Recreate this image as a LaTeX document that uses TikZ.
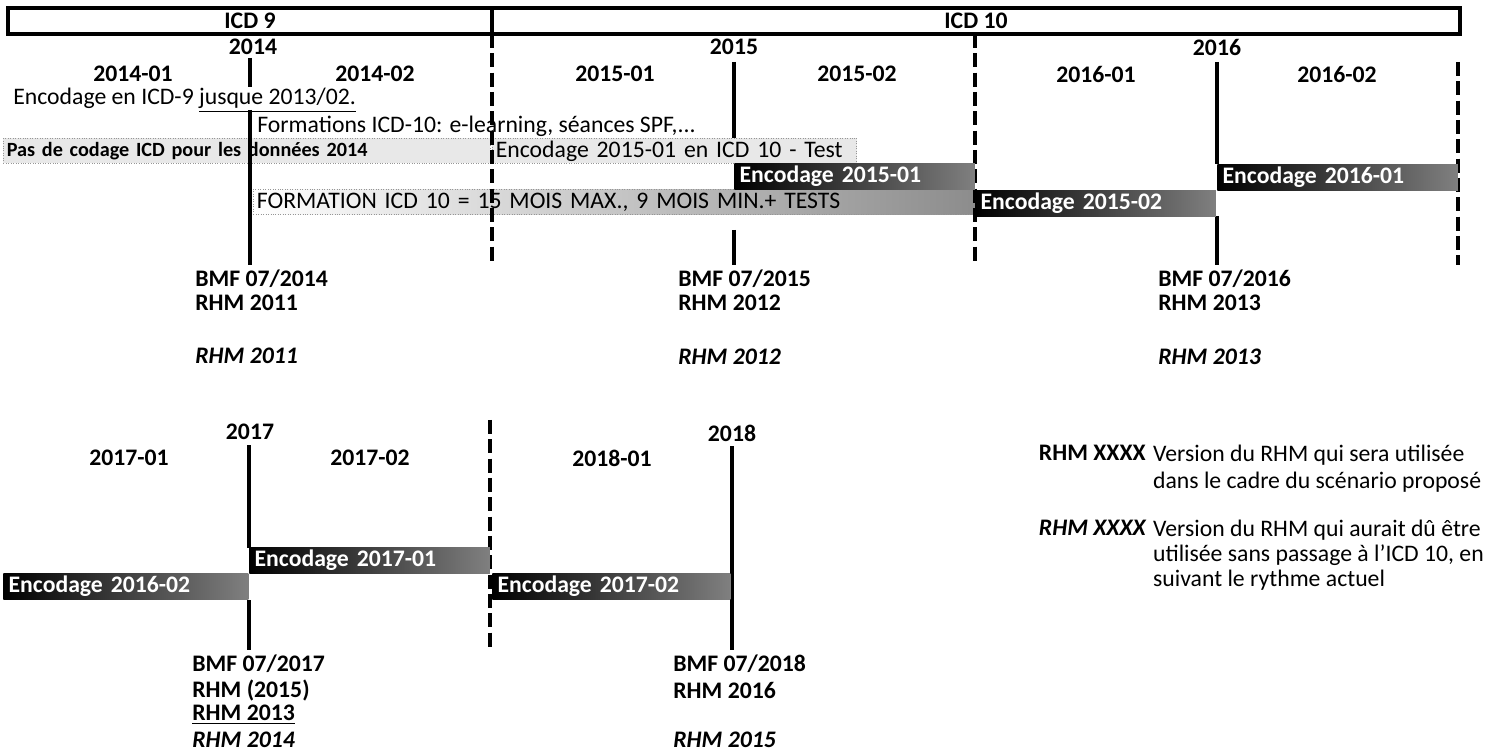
\documentclass[tikz,border=0pt]{standalone}
\usepackage{fontspec}
\setmainfont{Carlito}
\usepackage{tikz}
\usetikzlibrary{positioning}
\definecolor{notegray}{RGB}{232,232,232}
\definecolor{dotgray}{RGB}{150,150,150}
\newcommand{\txtsize}{\fontsize{13.5}{15.5}\selectfont}

\begin{document}
\begin{tikzpicture}[x=0.02cm, y=-0.02cm, every node/.style={font=\txtsize},
  hdr/.style={draw, line width=1.9pt, minimum height=0.52cm, inner sep=0pt,
              font=\bfseries\txtsize},
  yearlbl/.style={font=\bfseries\txtsize, inner sep=0pt},
  lbl/.style={anchor=west, inner sep=0pt, font=\bfseries\txtsize},
  oldlbl/.style={anchor=west, inner sep=0pt, font=\bfseries\itshape\txtsize},
  yrline/.style={line width=2.8pt},
  halfline/.style={line width=2.8pt, dash pattern=on 8pt off 3pt},
  note/.style={anchor=west, inner sep=0pt},
  greybox/.style={anchor=north west, fill=notegray, draw=dotgray, densely dotted,
                  minimum height=0.5cm, inner xsep=2pt, inner ysep=0pt, align=left},
  enc/.style={anchor=north west, left color=black, middle color=black!85,
              right color=black!50, text=white, font=\bfseries\txtsize,
              inner xsep=3pt, inner ysep=0pt, minimum height=0.52cm,
              text width=#1, align=left},
  enc/.default=4.6cm]
  \useasboundingbox (0,0) rectangle (1509,753);

  % ICD header
  \node[hdr, minimum width=9.68cm] (icd9) at (250,21) {ICD 9};
  \node[hdr, minimum width=19.36cm] (icd10) at (976,21) {ICD 10};

  % Years and semesters, row 1
  \node[yearlbl] (y14) at (253,47) {2014};
  \node[yearlbl] (y15) at (734,47) {2015};
  \node[yearlbl] (y16) at (1217,47) {2016};
  \node[yearlbl] (s141) at (133,74) {2014-01};
  \node[yearlbl] (s142) at (375,74) {2014-02};
  \node[yearlbl] (s151) at (615,74) {2015-01};
  \node[yearlbl] (s152) at (857,74) {2015-02};
  \node[yearlbl] (s161) at (1096,74) {2016-01};
  \node[yearlbl] (s162) at (1337,74) {2016-02};

  % Notes, row 1
  \node[note] (icd9enc) at (13,100) {Encodage en ICD-9 \underline{jusque 2013/02.}};
  \node[note] (form) at (257,126) {Formations ICD-10: e-learning, s\'eances SPF,...};
  \node[greybox, text width=9.6cm, font=\bfseries\fontsize{11.5}{13}\selectfont]
    (nocode) at (3,138) {Pas de codage ICD pour les donn\'ees 2014};
  \node[greybox, text width=7.15cm] (test) at (492,138) {Encodage 2015-01 en ICD 10 - Test};
  \node[anchor=north west, left color=white, right color=black!45, draw=dotgray,
        densely dotted, minimum height=0.5cm, inner xsep=2pt, inner ysep=0pt,
        text width=14.3cm, align=left] (formmax) at (253,189)
    {FORMATION ICD 10 = 15 MOIS MAX., 9 MOIS MIN.+ TESTS};

  % Year lines, row 1
  \draw[yrline] (250,58) -- (250,87);
  \draw[yrline] (250,110) -- (250,265);
  \draw[yrline] (734,62) -- (734,138);
  \draw[yrline] (734,230) -- (734,265);
  \draw[yrline] (1217,62) -- (1217,164);
  \draw[yrline] (1217,216) -- (1217,265);
  \draw[halfline] (492,34) -- (492,265);
  \draw[halfline] (975,34) -- (975,265);
  \draw[halfline] (1458,62) -- (1458,265);

  % Encoding bars, row 1
  \node[enc] (e1501) at (734,163) {Encodage 2015-01};
  \node[enc] (e1502) at (975,190) {Encodage 2015-02};
  \node[enc] (e1601) at (1217,164) {Encodage 2016-01};

  % Versions, row 1
  \node[lbl] (bmf14) at (195,279) {BMF 07/2014};
  \node[lbl] (rhm14) at (195,303) {RHM 2011};
  \node[oldlbl] (old14) at (195,356) {RHM 2011};
  \node[lbl] (bmf15) at (678,279) {BMF 07/2015};
  \node[lbl] (rhm15) at (678,303) {RHM 2012};
  \node[oldlbl] (old15) at (678,357) {RHM 2012};
  \node[lbl] (bmf16) at (1158,279) {BMF 07/2016};
  \node[lbl] (rhm16) at (1158,303) {RHM 2013};
  \node[oldlbl] (old16) at (1158,357) {RHM 2013};

  % Years and semesters, row 2
  \node[yearlbl] (y17) at (250,432) {2017};
  \node[yearlbl] (y18) at (732,433) {2018};
  \node[yearlbl] (s171) at (129,458) {2017-01};
  \node[yearlbl] (s172) at (370,458) {2017-02};
  \node[yearlbl] (s181) at (612,458) {2018-01};

  % Year lines, row 2
  \draw[yrline] (249,445) -- (249,548);
  \draw[yrline] (249,600) -- (249,650);
  \draw[halfline] (490,420) -- (490,650);
  \draw[yrline] (732,446) -- (732,650);

  % Encoding bars, row 2
  \node[enc=4.69cm] (e1602) at (3,573) {Encodage 2016-02};
  \node[enc=4.6cm] (e1701) at (249,547) {Encodage 2017-01};
  \node[enc=4.55cm] (e1702) at (492,573) {Encodage 2017-02};

  % Versions, row 2
  \node[lbl] (bmf17) at (192,664) {BMF 07/2017};
  \node[lbl] (rhm17) at (192,690) {RHM (2015)};
  \node[lbl] (rhm17b) at (192,715) {\underline{RHM 2013}};
  \node[oldlbl] (old17) at (192,740) {RHM 2014};
  \node[lbl] (bmf18) at (673,664) {BMF 07/2018};
  \node[lbl] (rhm18) at (673,690) {RHM 2016};
  \node[oldlbl] (old18) at (673,740) {RHM 2015};

  % Legend
  \node[lbl, anchor=east] (keynew) at (1146,453) {RHM XXXX};
  \node[anchor=north west, inner sep=1pt, align=left,
        font=\fontsize{13.5}{15.3}\selectfont] (keynewtxt) at (1151,443)
    {Version du RHM qui sera utilis\'ee\\dans le cadre du sc\'enario propos\'e};
  \node[oldlbl, anchor=east] (keyold) at (1146,528) {RHM XXXX};
  \node[anchor=north west, inner sep=1pt, align=left,
        font=\fontsize{13.5}{14.2}\selectfont] (keyoldtxt) at (1151,518)
    {Version du RHM qui aurait d\^u \^etre\\utilis\'ee sans passage \`a l'ICD 10, en\\suivant le rythme actuel};
\end{tikzpicture}
\end{document}
